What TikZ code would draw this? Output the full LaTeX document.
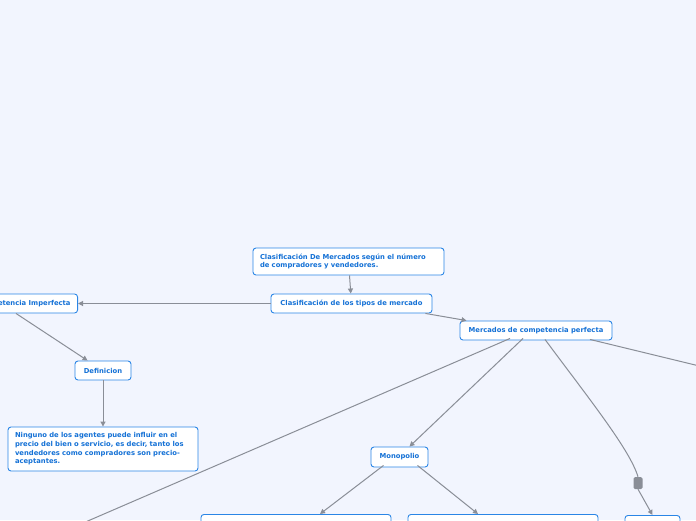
\documentclass[tikz,border=0pt]{standalone}
\usepackage{fontspec}
\setmainfont{DejaVu Sans}
\usetikzlibrary{arrows.meta}

\definecolor{bgblue}{HTML}{F2F5FE}
\definecolor{boxblue}{HTML}{2B86E6}
\definecolor{txtblue}{HTML}{1471D6}
\definecolor{linegray}{HTML}{8A8E97}

\begin{document}
\begin{tikzpicture}[x=1pt, y=-1pt,
    >={Triangle[length=5pt, width=5pt]},
    topic/.style={draw=boxblue, fill=white, rounded corners=3pt, line width=0.9pt,
      text=txtblue, font=\fontsize{6.8}{8.6}\selectfont\bfseries,
      inner xsep=7pt, inner ysep=3pt, minimum height=19pt},
    edge/.style={draw=linegray, line width=1pt, ->}]
  % --- Mind map: clasificacion de los tipos de mercado ---

  % Background and frame of the whole image
  \fill[bgblue] (0,0) rectangle (696,520);
  \useasboundingbox (0,0) rectangle (696,520);

  % Main topics
  \node[topic, text width=177pt, align=left, minimum height=27pt] (top) at (348.5,261.5)
    {Clasificación De Mercados según el número de compradores y vendedores.};
  \node[topic, minimum width=161pt] (tipos) at (351.5,303.5)
    {Clasificación de los tipos de mercado};
  \node[topic, anchor=east] (imperf) at (78,303.5)
    {Mercados de competencia Imperfecta};
  \node[topic, minimum width=152pt] (perf) at (536,330.5)
    {Mercados de competencia perfecta};

  % Subtopics
  \node[topic, minimum width=56pt] (def) at (103,370.5) {Definicion};
  \node[topic, text width=176pt, align=left, minimum height=44pt] (big) at (103,449)
    {Ninguno de los agentes puede influir en el precio del bien o servicio, es decir, tanto los vendedores como compradores son precio-\linebreak aceptantes.};
  \node[topic, minimum width=57pt, minimum height=20pt] (mono) at (399.5,457) {Monopolio};

  % Boxes cut by the lower edge
  \node[topic, anchor=north, minimum width=190pt, minimum height=44pt] (uno) at (296,514) {};
  \node[topic, anchor=north, minimum width=190pt, minimum height=44pt] (dos) at (503,514) {};
  \node[topic, anchor=north, minimum width=55pt] (tres) at (652.5,515) {};

  % Marker on the curved branch
  \node[fill=linegray, rounded corners=1.5pt, minimum width=9pt, minimum height=12pt,
    inner sep=0pt] (marca) at (638,483) {};

  % Free ends outside the image
  \coordinate (fueraizq) at (60,533);
  \coordinate (fuerader) at (720,371);

  % Connectors
  \draw[edge] (top) -- (tipos);
  \draw[edge] (tipos) -- (imperf);
  \draw[edge] ([xshift=-7pt]tipos.south east) -- ([xshift=7pt]perf.north west);
  \draw[edge] ([xshift=-62pt]imperf.south east) -- ([xshift=13pt]def.north west);
  \draw[edge] (def) -- (big);
  \draw[edge] ([xshift=-13pt, yshift=2pt]perf.south) -- ([xshift=10pt]mono.north);
  \draw[edge] ([xshift=-16pt, yshift=2pt]mono.south) -- ([xshift=24pt]uno.north);
  \draw[edge] ([xshift=18pt, yshift=2pt]mono.south) -- ([xshift=-25pt]dos.north);
  \draw[edge] ([xshift=-26pt, yshift=2pt]perf.south) -- (fueraizq);
  \draw[edge] ([xshift=54pt, yshift=1pt]perf.south) -- (fuerader);
  \draw[draw=linegray, line width=1pt] ([xshift=9pt, yshift=1pt]perf.south)
    .. controls (590,400) and (630,450) .. (marca.north);
  \draw[edge] (marca.south) -- (tres.north);
\end{tikzpicture}
\end{document}
